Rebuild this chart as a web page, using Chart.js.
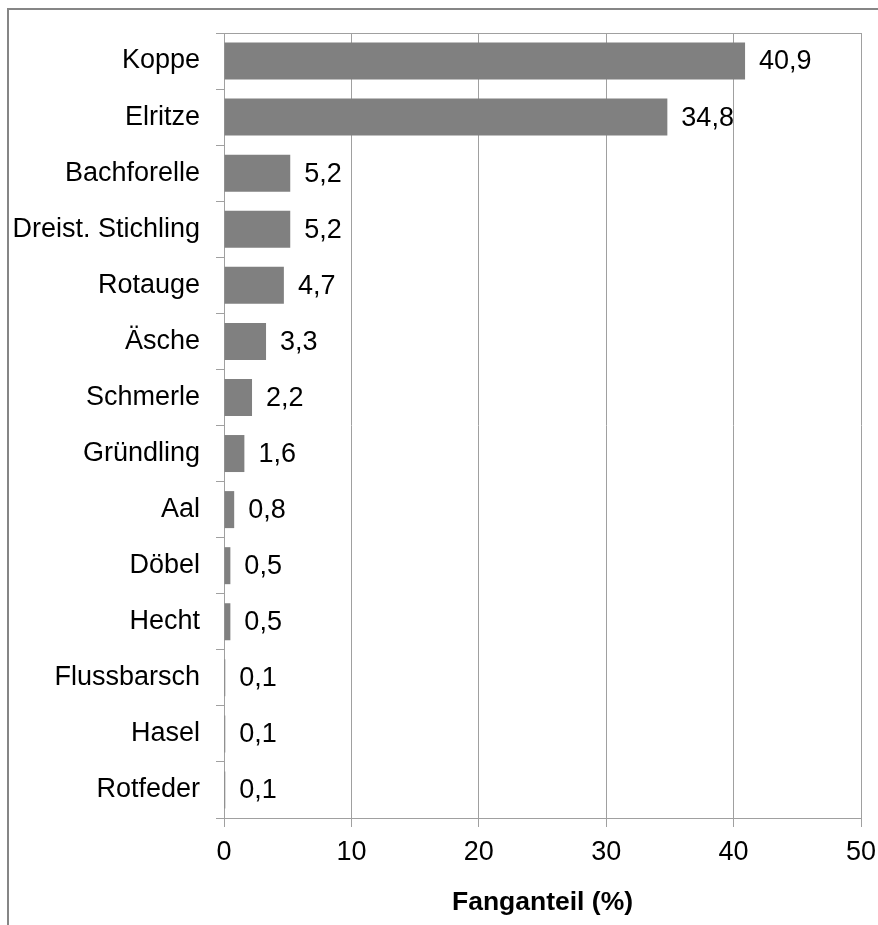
<!DOCTYPE html>
<html>
<head>
<meta charset="utf-8">
<script src="https://cdn.jsdelivr.net/npm/chart.js@4/dist/chart.umd.min.js"></script>
<style>
  html, body { margin: 0; padding: 0; background: #fff; overflow: hidden; }
  #frame { position: absolute; left: 7px; top: 8px; width: 920px; height: 960px;
           border-left: 2px solid #868686; border-top: 2px solid #868686; }
  #wrap { position: absolute; left: 0; top: 0; width: 878px; height: 925px; }
</style>
</head>
<body>
<div id="frame"></div>
<div id="wrap"><canvas id="c"></canvas></div>
<script>
// Fish species and their share of the catch (%)
const species = ['Koppe', 'Elritze', 'Bachforelle', 'Dreist. Stichling', 'Rotauge', 'Äsche',
  'Schmerle', 'Gründling', 'Aal', 'Döbel', 'Hecht', 'Flussbarsch', 'Hasel', 'Rotfeder'];
const share = [40.9, 34.8, 5.2, 5.2, 4.7, 3.3, 2.2, 1.6, 0.8, 0.5, 0.5, 0.1, 0.1, 0.1];
const xTicks = [0, 10, 20, 30, 40, 50];
const axisTitle = 'Fanganteil (%)';

const FONT = '"Liberation Sans", Arial, sans-serif';
const SIZE = 27;
const GRID = '#a0a0a0';

// Writes each bar's value (German decimal comma) just past the bar end
const valueLabels = {
  id: 'valueLabels',
  afterDatasetsDraw(chart) {
    const ctx = chart.ctx;
    const meta = chart.getDatasetMeta(0);
    ctx.save();
    ctx.font = SIZE + 'px ' + FONT;
    ctx.fillStyle = '#000';
    ctx.textAlign = 'left';
    ctx.textBaseline = 'middle';
    meta.data.forEach((bar, i) => {
      const txt = share[i].toFixed(1).replace('.', ',');
      ctx.fillText(txt, bar.x + 14, bar.y + 1);
    });
    ctx.restore();
  }
};

new Chart(document.getElementById('c'), {
  type: 'bar',
  data: {
    labels: species,
    datasets: [{
      data: share,
      backgroundColor: '#808080',
      borderWidth: 0,
      barPercentage: 0.66,
      categoryPercentage: 1.0
    }]
  },
  options: {
    indexAxis: 'y',
    responsive: true,
    maintainAspectRatio: false,
    animation: false,
    layout: { padding: { top: 33, right: 17, left: 0, bottom: 0 } },
    plugins: { legend: { display: false }, tooltip: { enabled: false } },
    scales: {
      x: {
        min: 0, max: 50,
        afterFit: s => { s.height = 107; s.paddingLeft = 0; s.paddingRight = 0; },
        afterBuildTicks: s => { s.ticks = xTicks.map(v => ({ value: v })); },
        ticks: { color: '#000', font: { family: FONT, size: SIZE }, padding: 9 },
        grid: { color: GRID, lineWidth: 1, tickLength: 9, tickColor: GRID },
        border: { color: GRID, width: 1 },
        title: { display: true, text: axisTitle, color: '#000',
                 font: { family: FONT, size: 26.5, weight: 'bold' },
                 padding: { top: 0, bottom: 6 } }
      },
      y: {
        afterFit: s => { s.width = 224; },
        ticks: { color: '#000', font: { family: FONT, size: SIZE }, padding: 16 },
        grid: {
          offset: true,
          drawOnChartArea: true,
          color: c => c.index === 0 ? GRID : 'rgba(0,0,0,0)',
          tickColor: GRID,
          tickLength: 8,
          lineWidth: 1
        },
        border: { color: GRID, width: 1 }
      }
    }
  },
  plugins: [valueLabels]
});
</script>
</body>
</html>
